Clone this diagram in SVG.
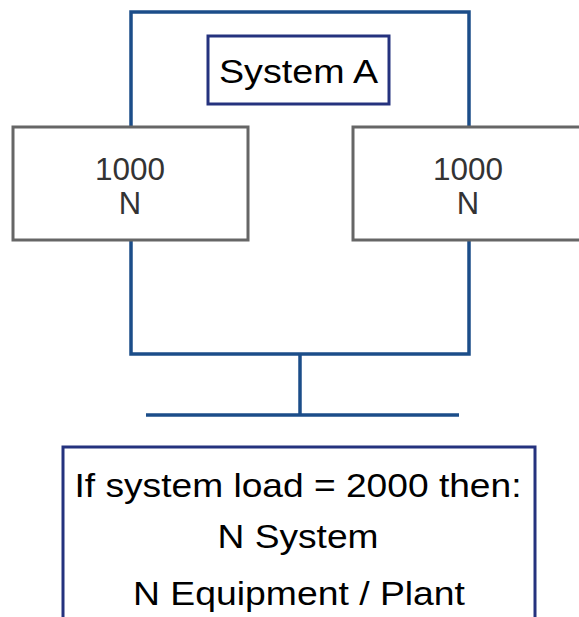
<svg xmlns="http://www.w3.org/2000/svg" width="579" height="617" viewBox="0 0 579 617">
<style>
.loop{fill:none;stroke:#1b4d89;stroke-width:3.5}
.nav{fill:#fff;stroke:#25327e;stroke-width:3}
.gray{fill:#fff;stroke:#666;stroke-width:3}
.t{font-family:"Liberation Sans",Arial,sans-serif;text-anchor:middle;fill:#000}
.g{font-family:"Liberation Sans",Arial,sans-serif;text-anchor:middle;fill:#333;font-size:31px}
</style>
<g id="connectors">
<rect class="loop" x="131" y="12" width="338" height="342"/>
<line class="loop" x1="300" y1="354" x2="300" y2="415"/>
<line class="loop" x1="146" y1="415" x2="459" y2="415"/>
</g>
<g id="systemA">
<rect class="nav" x="208" y="36" width="181" height="68"/>
<text class="t" x="298.5" y="83" font-size="34" textLength="159" lengthAdjust="spacingAndGlyphs">System A</text>
</g>
<g id="leftUnit">
<rect class="gray" x="13" y="127" width="235" height="113"/>
<text class="g" x="130" y="180" textLength="70" lengthAdjust="spacingAndGlyphs">1000</text>
<text class="g" x="130" y="214">N</text>
</g>
<g id="rightUnit">
<rect class="gray" x="353" y="127" width="240" height="113"/>
<text class="g" x="468" y="180" textLength="70" lengthAdjust="spacingAndGlyphs">1000</text>
<text class="g" x="468" y="214">N</text>
</g>
<g id="note">
<rect class="nav" x="63" y="447" width="472" height="190"/>
<text class="t" x="298" y="497" font-size="34" textLength="447" lengthAdjust="spacingAndGlyphs">If system load = 2000 then:</text>
<text class="t" x="298" y="548" font-size="34" textLength="161" lengthAdjust="spacingAndGlyphs">N System</text>
<text class="t" x="299" y="605" font-size="34" textLength="332" lengthAdjust="spacingAndGlyphs">N Equipment / Plant</text>
</g>
</svg>
